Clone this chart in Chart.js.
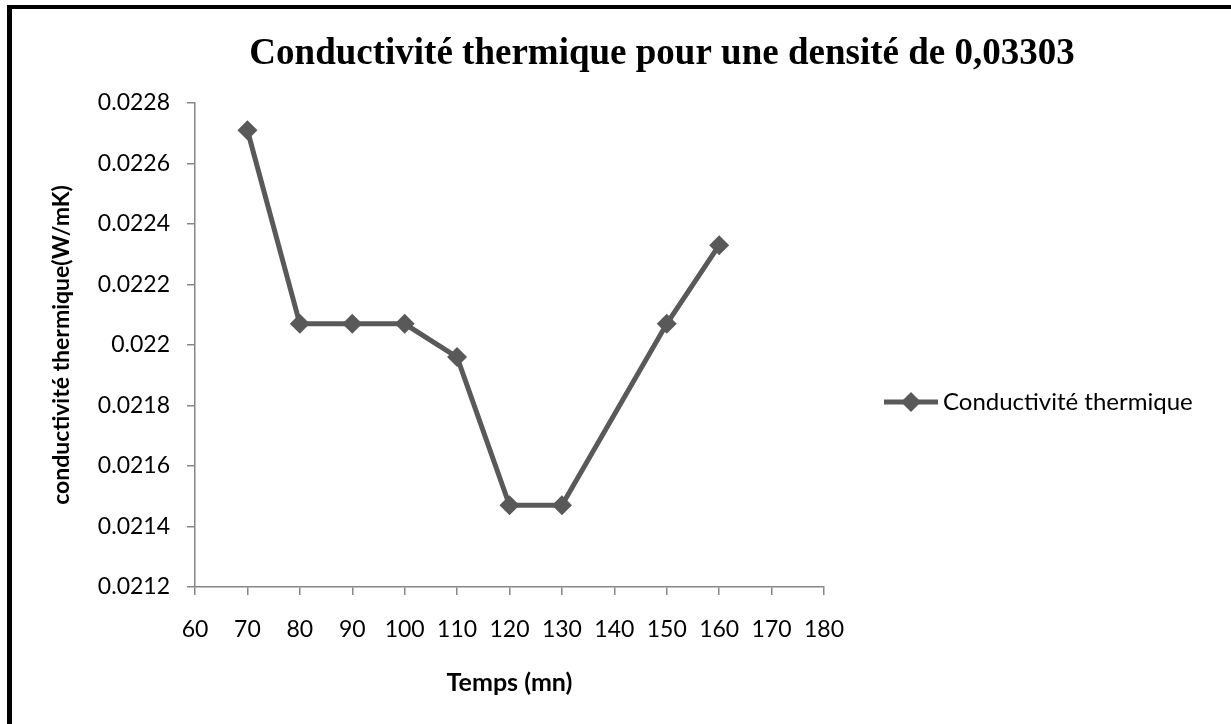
<!DOCTYPE html>
<html>
<head>
<meta charset="utf-8">
<script src="https://cdn.jsdelivr.net/npm/chart.js@4.4.0/dist/chart.umd.min.js"></script>
<style>
  body { margin: 0; background: #fff; }
  #frame { position: absolute; left: 7px; top: 5px; width: 1222px; height: 730px;
           border-left: 5px solid #000; border-top: 4px solid #000; border-right: 1px solid #444; }
  #wrap { position: absolute; left: 0; top: 0; width: 1231px; height: 724px; }
</style>
</head>
<body>
<div id="frame"></div>
<div id="wrap"><canvas id="chart"></canvas></div>
<script>
const titleText = 'Conductivité thermique pour une densité de 0,03303';
const seriesName = 'Conductivité thermique';
const timeMinutes = [70, 80, 90, 100, 110, 120, 130, 150, 160];
const conductivity = [0.02271, 0.02207, 0.02207, 0.02207, 0.02196, 0.02147, 0.02147, 0.02207, 0.02233];
const xTitle = 'Temps (mn)';
const yTitle = 'conductivité thermique(W/mK)';

const lineColor = '#595959';
const axisColor = '#868686';
const labelFont = 'Lato';

// title and legend drawn by hand to match the original placement
const extras = {
  id: 'extras',
  afterDraw(chart) {
    const c = chart.ctx;
    c.save();
    c.fillStyle = '#000';
    c.font = 'bold 37px "Liberation Serif"';
    c.textAlign = 'center';
    c.textBaseline = 'middle';
    c.fillText(titleText, 662, 54);

    const ly = 402;
    c.strokeStyle = lineColor;
    c.lineWidth = 5;
    c.beginPath();
    c.moveTo(884, ly);
    c.lineTo(938, ly);
    c.stroke();
    c.fillStyle = lineColor;
    c.beginPath();
    c.moveTo(911, ly - 10);
    c.lineTo(921, ly);
    c.lineTo(911, ly + 10);
    c.lineTo(901, ly);
    c.closePath();
    c.fill();
    c.fillStyle = '#000';
    c.font = '24px ' + labelFont;
    c.textAlign = 'left';
    c.fillText(seriesName, 943, ly);
    c.restore();
  }
};

new Chart(document.getElementById('chart'), {
  type: 'line',
  data: {
    datasets: [{
      label: seriesName,
      data: timeMinutes.map((t, i) => ({ x: t, y: conductivity[i] })),
      borderColor: lineColor,
      backgroundColor: lineColor,
      borderWidth: 5,
      pointStyle: 'rectRot',
      pointRadius: 10,
      pointBorderWidth: 0,
      tension: 0
    }]
  },
  options: {
    responsive: true,
    maintainAspectRatio: false,
    animation: false,
    layout: { padding: { left: 0, top: 103, right: 407, bottom: 0 } },
    plugins: { legend: { display: false }, title: { display: false }, tooltip: { enabled: false } },
    scales: {
      x: {
        type: 'linear',
        min: 60, max: 180,
        afterFit: (axis) => { axis.height = 137; },
        border: { color: axisColor, width: 1.5 },
        grid: { drawOnChartArea: false, color: axisColor, tickLength: 8, lineWidth: 1.5 },
        ticks: { stepSize: 10, color: '#000', padding: 21, maxRotation: 0, font: { family: labelFont, size: 23 } },
        title: { display: true, text: xTitle, color: '#000', padding: { top: 26, bottom: 26 },
                 font: { family: labelFont, size: 25, weight: 'bold' } }
      },
      y: {
        min: 0.0212, max: 0.0228,
        afterFit: (axis) => { axis.width = 195; },
        border: { color: axisColor, width: 1.5 },
        grid: { drawOnChartArea: false, color: axisColor, tickLength: 8, lineWidth: 1.5 },
        ticks: { stepSize: 0.0002, color: '#000', padding: 17,
                 font: { family: labelFont, size: 23 },
                 callback: (v) => String(parseFloat(v.toFixed(4))) },
        title: { display: true, text: yTitle, color: '#000', padding: { top: 48, bottom: 48 },
                 font: { family: labelFont, size: 23, weight: 'bold' } }
      }
    }
  },
  plugins: [extras]
});
</script>
</body>
</html>
